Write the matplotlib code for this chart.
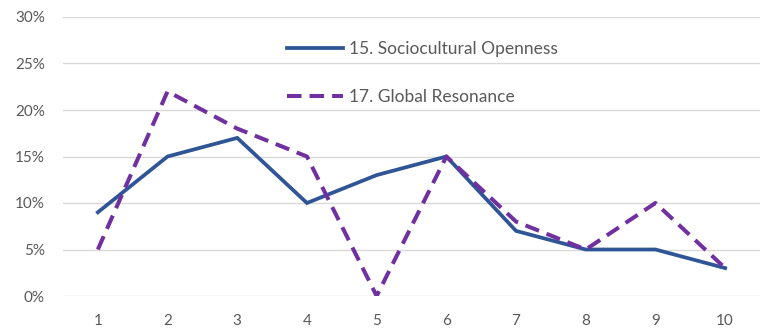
import matplotlib
matplotlib.use("Agg")
import matplotlib.pyplot as plt
from matplotlib.ticker import FuncFormatter

categories = [1, 2, 3, 4, 5, 6, 7, 8, 9, 10]
socio_openness = [9, 15, 17, 10, 13, 15, 7, 5, 5, 3]
global_resonance = [5, 22, 18, 15, 0, 15, 8, 5, 10, 3]
series_labels = ["15. Sociocultural Openness", "17. Global Resonance"]
y_ticks = [0, 5, 10, 15, 20, 25, 30]

plt.rcParams['font.family'] = ['Lato', 'DejaVu Sans']

fig = plt.figure(figsize=(7.68, 3.33), dpi=100)
ax = fig.add_axes([63/768, 1-296/333, (760-63)/768, (296-17)/333])

pos = list(range(len(categories)))
ax.plot(pos, socio_openness, color='#2F5597', lw=2.7, solid_joinstyle='miter',
        label=series_labels[0])
ax.plot(pos, global_resonance, color='#7030A0', lw=2.9, dashes=(3.6, 2.0),
        dash_capstyle='butt', label=series_labels[1])

ax.set_xlim(-0.5, len(categories) - 0.5)
ax.set_ylim(0, 30)
ax.set_xticks(pos)
ax.set_xticklabels([str(c) for c in categories])
ax.set_yticks(y_ticks)
ax.yaxis.set_major_formatter(FuncFormatter(lambda v, p: f"{int(v)}%"))
ax.grid(axis='y', color='#D9D9D9', lw=1)
ax.set_axisbelow(True)
for s in ax.spines.values():
    s.set_visible(False)
ax.tick_params(axis='both', length=0, labelsize=11, labelcolor='#595959')
ax.tick_params(axis='y', pad=13)
ax.tick_params(axis='x', pad=13)

leg = ax.legend(loc='upper left', bbox_to_anchor=(287/768, 1-41/333),
                bbox_transform=fig.transFigure, frameon=False, borderpad=0,
                handlelength=3.2, handletextpad=0.35, labelspacing=1.85,
                fontsize=12.5, borderaxespad=0)
for t in leg.get_texts():
    t.set_color('#595959')

fig.savefig("out.png", dpi=100, facecolor='white')
